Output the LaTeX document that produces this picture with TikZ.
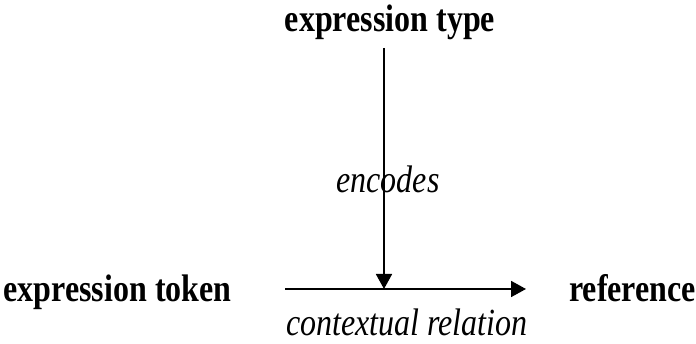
\documentclass[tikz,border=0pt]{standalone}
\usepackage{fontspec}
\setmainfont{Liberation Serif}
\usepackage{graphicx}
\usepackage{tikz}
\usetikzlibrary{arrows.meta,positioning}

\newcommand{\tallt}[1]{\scalebox{1}[1.2]{#1}}

\tikzset{
    termbox/.style={inner sep=0pt,font=\fontsize{32}{38}\selectfont\bfseries},
    relbox/.style={inner sep=0pt,font=\fontsize{32}{38}\selectfont\itshape},
    relarrow/.style={line width=1.8pt,-{Triangle[length=15pt,width=16pt]}}
}

\begin{document}
\begin{tikzpicture}[x=1pt,y=1pt]

\useasboundingbox (0,0) rectangle (696,344);

\node[termbox,anchor=base] (type) at (390,312) {\tallt{expression type}};
\node[termbox,anchor=base west] (token) at (3.5,42) {\tallt{expression token}};
\node[termbox,anchor=base west] (ref) at (569,42) {\tallt{reference}};

\node[relbox,anchor=base] (encodes) at (388,151) {\tallt{encodes}};
\node[relbox,anchor=base west] (context) at (286,8) {\tallt{contextual relation}};

\coordinate (CS) at (285,55);
\coordinate (CE) at (526,55);
\coordinate (ET) at (384,296);
\coordinate (EB) at (384,55);

\draw[relarrow] (CS)--(CE);
\draw[relarrow] (ET)--(EB);

\end{tikzpicture}
\end{document}
